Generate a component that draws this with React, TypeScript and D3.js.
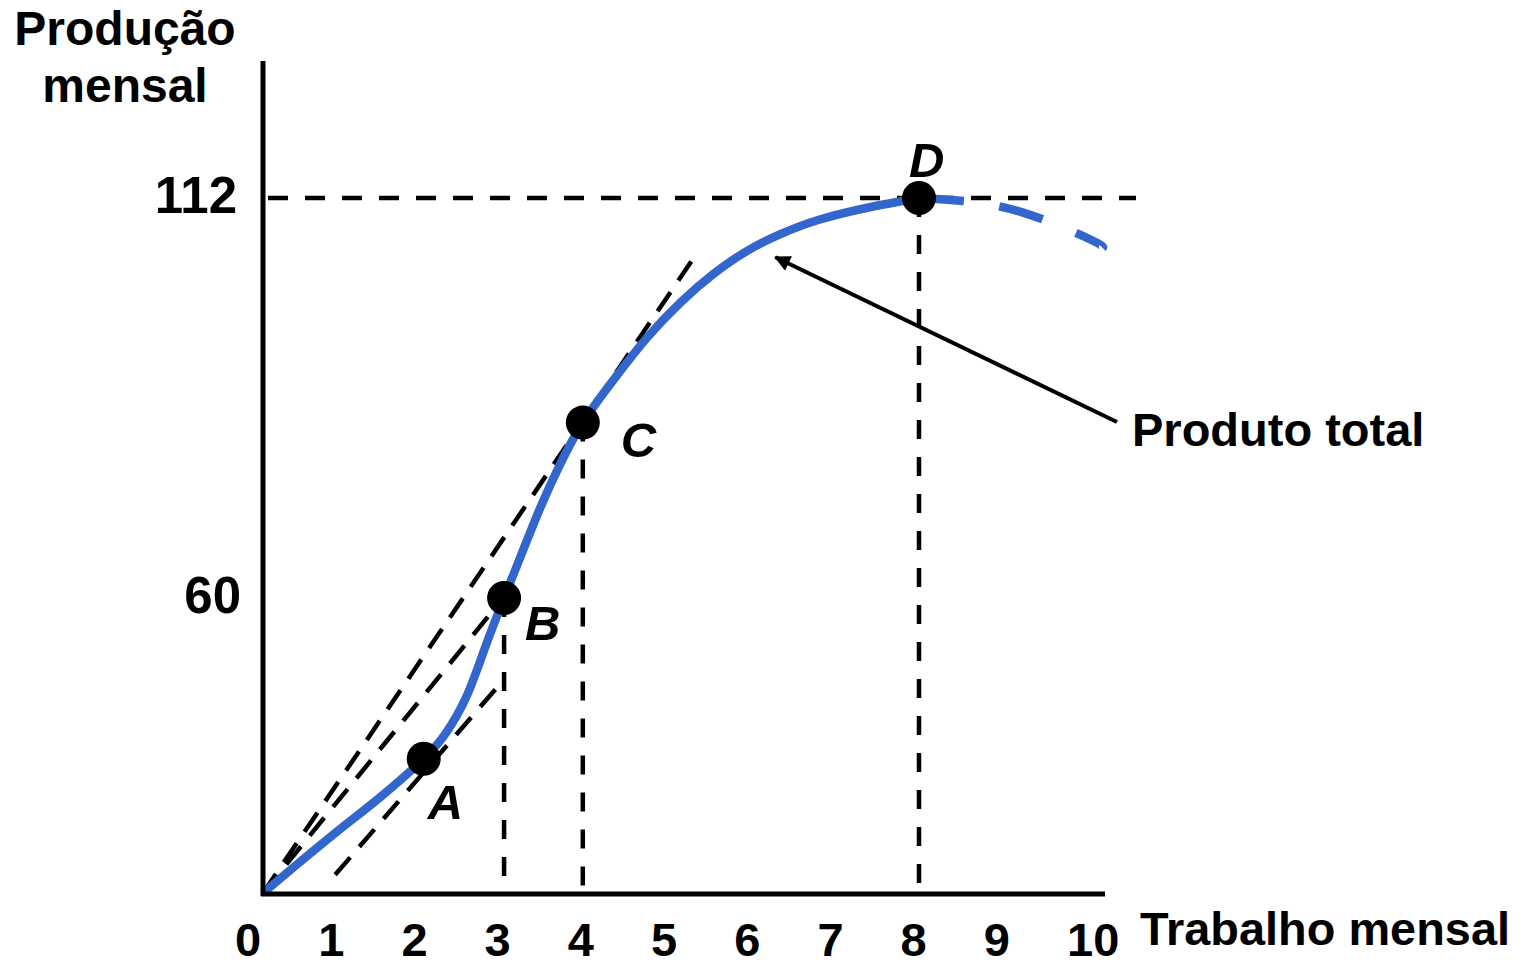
import React from "react";
import * as d3 from "d3";

// ---- data ----
const xTickLabels = [0, 1, 2, 3, 4, 5, 6, 7, 8, 9, 10];
const yTickValues = [60, 112];

// total product curve: [labour, output]
const curveSolid: [number, number][] = [
  [0, 0], [0.45, 6.3], [0.94, 13.0], [1.43, 19.5], [1.96, 27.3], [2.23, 32.5],
  [2.48, 39.9], [2.71, 50.0], [2.94, 60], [3.16, 65.9], [3.38, 71.7], [3.62, 77.3],
  [3.9, 82.8], [4.27, 88.3], [4.68, 93.8], [5.09, 98.4], [5.49, 102.1], [5.9, 105.1],
  [6.31, 107.3], [6.79, 109.2], [7.4, 110.8], [8.0, 112],
];
const curveDashed: [number, number][] = [
  [8.0, 112], [8.54, 111.6], [9.27, 110.1], [10.09, 106.6], [10.24, 105.5],
];

const points = [
  { name: "A", x: 1.96, y: 27.3 },
  { name: "B", x: 2.94, y: 60 },
  { name: "C", x: 3.9, y: 82.8 },
  { name: "D", x: 8.0, y: 112 },
];

// dashed rays/tangents: [[x1,y1],[x2,y2]]
const rays: [number, number][][] = [
  [[0, 0], [5.29, 104.8]], // ray through C
  [[0, 0], [2.96, 60.4]], // ray through B
  [[0.88, 3.7], [2.9, 42.7]], // tangent at A
];

const W = 1524;
const H = 967;

const x = d3.scaleLinear().domain([0, 10]).range([263, 1083]);
const xLabel = d3.scaleLinear().domain([0, 10]).range([235, 1067]);
const y = d3.scaleLinear().domain([0, 60, 112]).range([893, 598, 198]);

const FONT = "'Liberation Sans', Arial, sans-serif";
const BLUE = "#3366cc";

export default function App() {
  const line = d3
    .line<[number, number]>()
    .x((d) => x(d[0]))
    .y((d) => y(d[1]))
    .curve(d3.curveNatural);

  const labelOffsets: Record<string, [number, number]> = {
    A: [4, 60],
    B: [21, 42],
    C: [38, 34],
    D: [-10, -21],
  };

  return (
    <svg
      width={W}
      height={H}
      viewBox={`0 0 ${W} ${H}`}
      style={{ position: "absolute", left: 0, top: 0, background: "#fff" }}
    >
      <defs>
        <marker
          id="arrow"
          viewBox="0 0 10 10"
          refX="9"
          refY="5"
          markerWidth="4.5"
          markerHeight="4"
          orient="auto"
          markerUnits="strokeWidth"
        >
          <path d="M0,0 L10,5 L0,10 Z" fill="#000" />
        </marker>
      </defs>

      {/* horizontal dashed at 112 */}
      <line
        x1={x(0)}
        x2={1136}
        y1={y(112)}
        y2={y(112)}
        stroke="#000"
        strokeWidth={4.5}
        strokeDasharray="20 17"
        strokeDashoffset={-5}
      />

      {/* vertical dashed drop lines */}
      {points
        .filter((p) => p.name !== "A")
        .map((p) => (
          <line
            key={"v" + p.name}
            x1={x(p.x)}
            x2={x(p.x)}
            y1={y(p.y)}
            y2={y(0)}
            stroke="#000"
            strokeWidth={4.5}
            strokeDasharray="19 18"
          />
        ))}

      {/* rays */}
      {rays.map((r, i) => (
        <line
          key={"r" + i}
          x1={x(r[0][0])}
          y1={y(r[0][1])}
          x2={x(r[1][0])}
          y2={y(r[1][1])}
          stroke="#000"
          strokeWidth={4.5}
          strokeDasharray="23 14"
        />
      ))}

      {/* curve */}
      <path d={line(curveSolid) || ""} fill="none" stroke={BLUE} strokeWidth={8.5} />
      <path
        d={line(curveDashed) || ""}
        fill="none"
        stroke={BLUE}
        strokeWidth={8.5}
        strokeDasharray="45 36"
      />

      {/* axes */}
      <line x1={x(0)} x2={x(0)} y1={61} y2={y(0) + 3} stroke="#000" strokeWidth={5} />
      <line x1={x(0) - 2} x2={1105} y1={y(0) + 1} y2={y(0) + 1} stroke="#000" strokeWidth={5} />

      {/* points */}
      {points.map((p) => (
        <g key={p.name}>
          <circle cx={x(p.x)} cy={y(p.y)} r={17} fill="#000" />
          <text
            x={x(p.x) + labelOffsets[p.name][0]}
            y={y(p.y) + labelOffsets[p.name][1]}
            fontFamily={FONT}
            fontSize={49}
            fontWeight="bold"
            fontStyle="italic"
          >
            {p.name}
          </text>
        </g>
      ))}

      {/* arrow to curve */}
      <line
        x1={1117}
        y1={422}
        x2={x(6.25)}
        y2={y(104.3)}
        stroke="#000"
        strokeWidth={4}
        markerEnd="url(#arrow)"
      />

      {/* tick labels */}
      {xTickLabels.map((v) => (
        <text
          key={"xt" + v}
          x={xLabel(v)}
          y={956}
          fontFamily={FONT}
          fontSize={47}
          fontWeight="bold"
          textAnchor="start"
        >
          {v}
        </text>
      ))}
      {yTickValues.map((v) => (
        <text
          key={"yt" + v}
          x={v === 112 ? 237 : 241}
          y={y(v) + 15}
          fontFamily={FONT}
          fontSize={51}
          fontWeight="bold"
          textAnchor="end"
        >
          {v}
        </text>
      ))}

      {/* axis titles */}
      <text x={125} y={45} fontFamily={FONT} fontSize={48} fontWeight="bold" textAnchor="middle">
        Produção
      </text>
      <text x={125} y={102} fontFamily={FONT} fontSize={48} fontWeight="bold" textAnchor="middle">
        mensal
      </text>
      <text
        x={1140}
        y={945}
        fontFamily={FONT}
        fontSize={46.5}
        fontWeight="bold"
        textLength={370}
        lengthAdjust="spacingAndGlyphs"
      >
        Trabalho mensal
      </text>
      <text x={1132} y={446} fontFamily={FONT} fontSize={47} fontWeight="bold">
        Produto total
      </text>
    </svg>
  );
}
